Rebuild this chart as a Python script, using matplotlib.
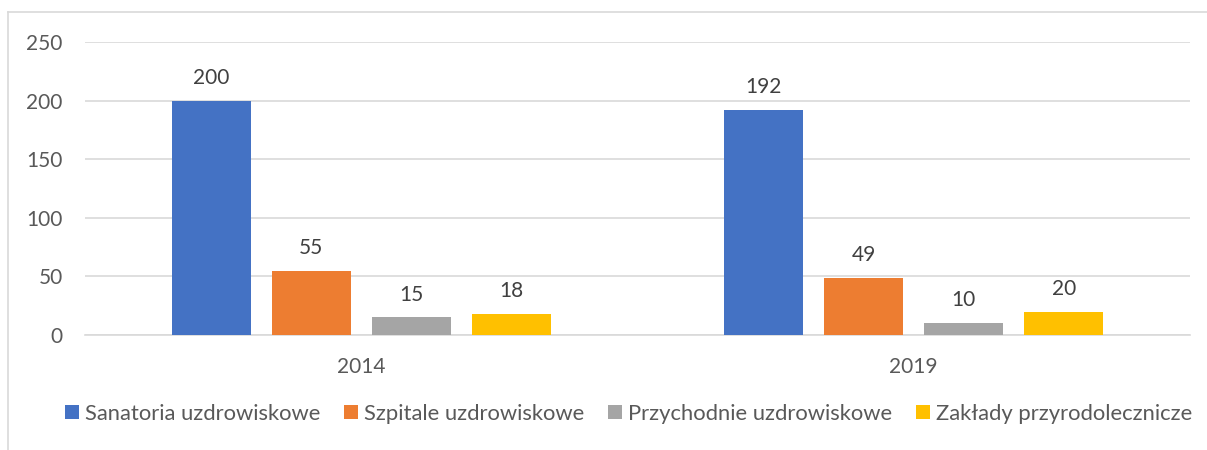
import numpy as np
import matplotlib.pyplot as plt
from matplotlib.lines import Line2D

plt.rcParams['font.family'] = ['Lato', 'DejaVu Sans']

years = ["2014", "2019"]
series = ["Sanatoria uzdrowiskowe", "Szpitale uzdrowiskowe",
          "Przychodnie uzdrowiskowe", "Zakłady przyrodolecznicze"]
sanatoria = [200, 192]
szpitale = [55, 49]
przychodnie = [15, 10]
zaklady = [18, 20]
colors = ["#4472C4", "#ED7D31", "#A5A5A5", "#FFC000"]

W, H = 1207, 450
fig = plt.figure(figsize=(W / 100, H / 100), dpi=100)
ax = fig.add_axes([85 / W, 1 - 335 / H, (1190 - 85) / W, (335 - 42) / H])

x = np.arange(len(years))
bw = 79 / 552.5
step = 100 / 552.5
values = [sanatoria, szpitale, przychodnie, zaklady]
for i, (vals, c, name) in enumerate(zip(values, colors, series)):
    pos = x + (i - 1.5) * step
    bars = ax.bar(pos, vals, width=bw, color=c, label=name, zorder=3)
    for b, v in zip(bars, vals):
        ax.text(b.get_x() + b.get_width() / 2, v + 11, str(v), ha="center",
                va="bottom", fontsize=15, color="#404040")

ax.set_xlim(-0.5, 1.5)
ax.set_ylim(0, 250)
ax.set_yticks(range(0, 251, 50))
ax.set_xticks(x)
ax.set_xticklabels(years)
ax.grid(axis="y", color="#d9d9d9", linewidth=1.2, zorder=0)
for s in ["top", "right", "left"]:
    ax.spines[s].set_visible(False)
ax.spines["bottom"].set_color("#d9d9d9")
ax.spines["bottom"].set_linewidth(1.2)
ax.tick_params(axis="both", length=0, labelsize=15, colors="#595959")
ax.tick_params(axis="y", pad=16)
ax.tick_params(axis="x", pad=16)

# legend
ax.legend(loc="center", bbox_to_anchor=(0.492, (414 - 335) / -293.0), ncol=4,
          frameon=False, fontsize=15.8, handlelength=0.63, handleheight=0.63,
          handletextpad=0.27, columnspacing=1.1, labelcolor="#595959")

# outer chart border (partly cropped)
fig.add_artist(Line2D([8 / W, 1.0], [1 - 12 / H, 1 - 12 / H], color="#d9d9d9", lw=1.2))
fig.add_artist(Line2D([8 / W, 8 / W], [0, 1 - 12 / H], color="#d9d9d9", lw=1.2))

fig.savefig("out.png", dpi=100)
